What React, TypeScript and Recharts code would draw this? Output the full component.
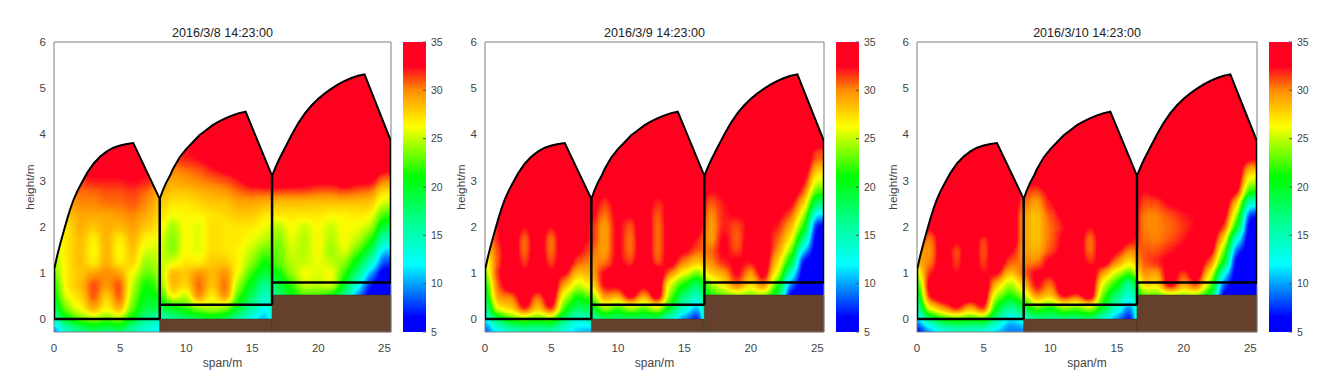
import React from 'react';
import { ComposedChart, AreaChart, Area, Line, Scatter, XAxis, YAxis, ReferenceArea } from 'recharts';

// heights (m) of the sampled rows; the last row reaches the top of the plot
const rowHeights = [-0.25, 0, 0.25, 0.5, 0.75, 1, 1.25, 1.5, 1.75, 2, 2.25, 2.5, 2.75, 3, 3.25, 3.5, 4];
// spans (m) of the sampled columns: column i is centred on x = i
const columnCount = 26;

const mar8Temps = [
  [9,14,16,18,17,18,15,13,12, 16,17,18,19,18,15,12,10, 17,20,22,22,20,16,9,5,5],
  [14,20,23,24,23,24,20,16,14, 16,17,18,19,18,15,12,10, 17,20,22,22,20,16,9,5,5],
  [18,24,26.5,29.5,26.5,29.5,23,19,19, 20,22,24,25,24,20,16,12, 17,20,22,22,20,16,9,5,5],
  [20,26,27.5,31.5,27.5,31.5,24,20,21, 27,24.5,30.5,26.5,30.5,22,18,14, 17,20,22,22,20,16,9,5,5],
  [21,27,28.5,31.5,29.5,31.5,25,21,23, 29,27.5,31,28,31,24,20,16, 19,22,25.5,25,26,20,13,7,5],
  [23,27,28,29.5,30,29.5,26,23,24, 29,28,30,28.5,30,26,22,19, 21,24,26.5,25.5,26.5,22,17,10,5],
  [24,27,28.5,26.5,29,26.5,28,24,25, 25.5,27,26.5,28,28,26.5,24,21, 23,25,25,26,25,24,20,15,8],
  [25,27,28.5,26,29,26,28.5,25.5,25.5, 23.5,26.5,25.5,27.5,27,26.5,25,23, 23,25.5,24.5,26.5,24,26,23,19,11],
  [26,27,28.5,26.5,29,26.5,29,26.5,26, 23.5,26.5,25.5,27.5,27,27,26,25, 23.5,26,24.5,26.5,24.5,26.5,25,22,15],
  [26,27,29,28,29,28.5,29.5,28,27, 24,26.5,25.5,27.5,27,27,27,26, 24.5,26.5,25,26.5,25,26.5,26,25,19],
  [28,28,29,29,29,29.5,30,29,27.5, 26,26.5,26.5,27,27.5,28,28,27, 27,27,27,27,26.5,26.5,27,26.5,22],
  [29,29,30,30,30.5,30.5,31,30,28, 27,27,27.5,28,28,29,29,28.5, 28,28,28,28,28,28,28,28,25],
  [30,30,30.5,30.5,31,31,31.5,30.5,29, 28,28,28.5,29,29.5,30.5,31,31, 31,31,31,30.5,30.5,31,30.5,30,27],
  [31.5,31.5,31.5,32,32,32,32.5,32,30, 29,29.5,30,30.5,31,32,33.5,34, 34,34,33.5,33,33,34,33,33,30],
  [33.5,33.5,33.5,33.5,33.5,33.5,33.5,33.5,31, 30,30.5,31,32,33,34,35,35, 35,35,35,35,35,35,35,35,33],
  [35,35,35,35,35,35,35,35,32, 31.5,32,32.5,33.5,35,35,35,35, 35,35,35,35,35,35,35,35,35],
  [35,35,35,35,35,35,35,35,35, 35,34,34.5,35,35,35,35,35, 35,35,35,35,35,35,35,35,35],
];

const mar9Temps = [
  [8,12,14,15,15,15,13,11,10, 17,17,17,17,17,13,9,6, 21,22,23,23,23,19,5,5,5],
  [11,18,22,23,22,23,17,13,15, 17,17,17,17,17,13,9,6, 21,22,23,23,23,19,5,5,5],
  [15,27,28,33,28,33,22,18,19, 25,22,25,23,26,20,14,10, 21,22,23,23,23,19,5,5,5],
  [18,30,30,35,30,35,25,21,23, 30,29,34,29,35,23,17,14, 21,22,23,23,23,19,5,5,5],
  [20,31,35,35,35,35,29,25,27, 33,33,35,33,35,25,21,17, 24,27,31,27,31,22,9,5,5],
  [23,32,35,33,35,33,33,28,29, 33,34,34,35,35,30,26,23, 28,29,33,29,34,26,14,5,5],
  [25,31,35,31,35,31,35,31,30, 30,33,31,35,30.5,34,30,28, 30,32,33,32,35,28,20,6,5],
  [27,31,35,30,35,30,35,33,31, 29,33,30,35,30,34,33,31, 30.5,33,31,34,35,30,24,11,5],
  [28,32,35,30,35,30,35,34,32, 29,33,30,35,30,34,34,32, 29,33,30.5,34,34,31,27,17,5],
  [30,32,35,32,35,32,35,35,32, 29,33,30.5,35,30,34,34,34, 29,32,31,33,33,32,29,22,6],
  [33,33,35,35,35,35,35,35,33, 30,33,32.5,34,30.5,34,34,34, 29.5,32,32.5,33,33,33,31,25,11],
  [35,35,35,35,35,35,35,35,34, 31,33.5,33,34,31.5,33,34,34, 30.5,32,33.5,33.5,34,34,33,28,17],
  [35,35,35,35,35,35,35,35,35, 33,34,34,34,33,34,35,35, 32,33,34,35,35,35,35,31,22],
  [35,35,35,35,35,35,35,35,35, 34,35,35,35,35,35,35,35, 34,34,35,35,35,35,35,33,25.5],
  [35,35,35,35,35,35,35,35,35, 35,35,35,35,35,35,35,35, 35,35,35,35,35,35,35,35,28],
  [35,35,35,35,35,35,35,35,35, 35,35,35,35,35,35,35,35, 35,35,35,35,35,35,35,35,31],
  [35,35,35,35,35,35,35,35,35, 35,35,35,35,35,35,35,35, 35,35,35,35,35,35,35,35,35],
];

const mar10Temps = [
  [6,10,13,14,14,13,11,9,9, 16,16,16,16,17,13,9,6, 22,22,23,23,23,19,5,5,5],
  [10,17,21,22,21,22,16,11,13, 16,16,16,16,17,13,9,6, 22,22,23,23,23,19,5,5,5],
  [14,27,30,33,29,33,20,16,19, 23,21,24,23,25,20,14,9, 22,22,23,23,23,19,5,5,5],
  [17,33,35,35,35,35,24,21,24, 30,28,33,31,35,22,17,13, 22,22,23,23,23,19,5,5,5],
  [20,34,35,35,35,35,28,24,28, 33,30,35,35,35,25,21,15, 28,27,34,29,32,24,8,5,5],
  [25,32,35,32,35,32,33,28,31, 33,33,35,35,35,29,25,22, 30,29,34,31,35,27,13,5,5],
  [29,30,35,31,35,31,35,31,30, 30,33,34,35,31.5,34,30,27, 31,32,33,34,35,31,21,5,5],
  [30,29.5,35,30.5,35,30.5,35,33,29.5, 28.5,31,33,35,30,35,33,30, 31,31,32,33,34,34,24,8,5],
  [32,30,35,33,35,31,35,35,29.5, 28,30.5,33,35,30,35,35,33, 30.5,30,31,32,34,35,28,13,5],
  [34,33,35,35,35,35,35,35,29.5, 28,30.5,32,35,32,35,35,35, 30,30,30.5,31.5,32.5,35,32,21,5],
  [35,35,35,35,35,35,35,35,29.5, 28,31,33,35,35,35,35,35, 30,30,31,32,32.5,33,34,24.5,7],
  [35,35,35,35,35,35,35,35,30.5, 29,32,34,35,35,35,35,35, 31,31,32.5,33,33,32.5,35,28,13],
  [35,35,35,35,35,35,35,35,32, 30.5,33,35,35,35,35,35,35, 32,33,34,35,35,34,35,33,21],
  [35,35,35,35,35,35,35,35,33, 33,35,35,35,35,35,35,35, 34,34,35,35,35,35,35,35,25],
  [35,35,35,35,35,35,35,35,35, 35,35,35,35,35,35,35,35, 35,35,35,35,35,35,35,35,28.5],
  [35,35,35,35,35,35,35,35,35, 35,35,35,35,35,35,35,35, 35,35,35,35,35,35,35,35,33],
  [35,35,35,35,35,35,35,35,35, 35,35,35,35,35,35,35,35, 35,35,35,35,35,35,35,35,35],
];

const titles = ['2016/3/8 14:23:00', '2016/3/9 14:23:00', '2016/3/10 14:23:00'];
const xTicks = [0, 5, 10, 15, 20, 25];
const yTicks = [0, 1, 2, 3, 4, 5, 6];
const colorTicks = [5, 10, 15, 20, 25, 30, 35];

const roofSpan = [0, 0.25, 0.5, 0.75, 1, 1.25, 1.5, 1.75, 2, 2.5, 3, 3.5, 4, 4.5, 5, 5.5, 6, 8, 8.25, 8.5, 8.8, 9, 9.5, 10, 10.5, 11, 11.5, 12, 12.5, 13, 13.5, 14, 14.5, 16.5, 16.75, 17, 17.5, 18, 18.5, 19, 19.5, 20, 20.5, 21, 21.5, 22, 22.5, 23, 23.5, 25.5];
const roofHeight = [1.06, 1.38, 1.66, 1.92, 2.17, 2.4, 2.6, 2.76, 2.9, 3.16, 3.37, 3.52, 3.63, 3.71, 3.76, 3.79, 3.81, 2.6, 2.8, 2.96, 3.12, 3.25, 3.5, 3.68, 3.83, 3.98, 4.09, 4.2, 4.28, 4.35, 4.41, 4.46, 4.49, 3.1, 3.28, 3.44, 3.72, 4.0, 4.25, 4.46, 4.63, 4.77, 4.89, 4.99, 5.08, 5.16, 5.22, 5.27, 5.3, 3.85];

const floorSpans = [[8, 16.5, 0], [16.5, 25.5, 0.52]];
const benchLines = [[[0, 0], [8, 0]], [[8, 0.31], [16.5, 0.31]], [[16.5, 0.79], [25.5, 0.79]]];
const wallLines = [[[0, 0], [0, 1.06]], [[8, 0], [8, 2.6]], [[16.5, 0.31], [16.5, 3.1]], [[25.5, 0.79], [25.5, 3.85]]];

const paletteValues = [5, 6.5, 12, 17, 21, 26.3, 30, 32.5, 35];
const paletteColors = ['#0000ff', '#0000ff', '#00ffff', '#00ff80', '#00ff00', '#ffff00', '#ff8c00', '#ff0020', '#ff0020'];

const TOP = 42, BOTTOM = 332, AXIS_W = 40, X_MAX = 25.5, Y_MIN = -0.28, Y_MAX = 6;
const panelLayouts = [
  { left: 54, right: 391, barLeft: 403 },
  { left: 485, right: 824, barLeft: 836 },
  { left: 917, right: 1257, barLeft: 1269 },
];
const panelData = [mar8Temps, mar9Temps, mar10Temps];
const BAR_W = 23;
const textColor = '#444444';
const fontFamily = '"Liberation Sans", Arial, sans-serif';

const hex = (c: string) => [1, 3, 5].map((i) => parseInt(c.slice(i, i + 2), 16));
function paletteAt(v: number) {
  let i = 0;
  while (i < paletteValues.length - 2 && v > paletteValues[i + 1]) i++;
  const t = Math.min(1, Math.max(0, (v - paletteValues[i]) / (paletteValues[i + 1] - paletteValues[i])));
  const a = hex(paletteColors[i]), b = hex(paletteColors[i + 1]);
  return a.map((x, k) => (x + (b[k] - x) * t) / 255);
}
const tableSteps = Array.from({ length: 61 }, (_, i) => paletteAt(5 + i / 2));
const channelTable = (k: number) => tableSteps.map((c) => c[k].toFixed(3)).join(' ');

function cellsOf(rows: number[][]) {
  const out: any[] = [];
  rows.forEach((row, r) => {
    const y = rowHeights[r];
    const low = r === 0 ? Y_MIN - 0.5 : (y + rowHeights[r - 1]) / 2;
    const high = r === rows.length - 1 ? Y_MAX + 0.5 : (y + rowHeights[r + 1]) / 2;
    for (let c = 0; c < columnCount; c++) out.push({ x: c, y, low, high, v: row[c] });
  });
  return out;
}

function HeatCell(props: any) {
  const { cx, cy, payload, pxX, pxY } = props;
  const level = Math.round(((payload.v - 5) / 30) * 255);
  return (
    <rect
      x={cx - pxX / 2 - 0.5 - (payload.x === 0 ? pxX : 0)}
      y={cy - (payload.high - payload.y) * pxY - 0.5}
      width={pxX + 1 + (payload.x === 0 || payload.x === columnCount - 1 ? pxX : 0)}
      height={(payload.high - payload.low) * pxY + 1}
      fill={`rgb(${level},${level},${level})`}
      shapeRendering="crispEdges"
    />
  );
}

const roofData = roofSpan.map((x, i) => ({ x, band: [roofHeight[i], Y_MAX] }));
const outlineData = roofSpan.map((x, i) => ({ x, y: roofHeight[i] }));

function Panel({ index }: { index: number }) {
  const lay = panelLayouts[index];
  const plotW = lay.right - lay.left;
  const plotH = BOTTOM - TOP;
  const pxX = plotW / X_MAX;
  const pxY = plotH / (Y_MAX - Y_MIN);
  const cells = cellsOf(panelData[index]);
  const tick = { fontSize: 11.5, fill: textColor, fontFamily };
  return (
    <div className={`panel-${index}`} style={{ position: 'absolute', left: lay.left - AXIS_W, top: 0 }}>
      <ComposedChart
        width={plotW + AXIS_W + 6}
        height={380}
        data={roofData}
        margin={{ top: TOP, right: 6, left: 0, bottom: 0 }}
      >
        <XAxis
          dataKey="x" type="number" domain={[0, X_MAX]} ticks={xTicks} allowDataOverflow
          height={380 - BOTTOM} tick={tick} tickLine={false} axisLine={false} tickMargin={6}
          interval={0}
          label={{ value: 'span/m', position: 'insideBottom', offset: 13, style: { fontSize: 12, fill: textColor, fontFamily } }}
        />
        <YAxis
          type="number" domain={[Y_MIN, Y_MAX]} ticks={yTicks} allowDataOverflow
          width={AXIS_W} tick={tick} tickLine={false} axisLine={false} tickMargin={2}
          interval={0}
          label={{ value: 'height/m', angle: -90, position: 'insideLeft', offset: 16, style: { fontSize: 11.8, fill: textColor, fontFamily, textAnchor: 'middle' } }}
        />
        <Scatter
          data={cells} dataKey="y" isAnimationActive={false} zIndex={50}
          shape={(p: any) => <HeatCell {...p} pxX={pxX} pxY={pxY} />}
        />
        <Area
          dataKey="band" type="linear" stroke="none" fill="#ffffff" fillOpacity={1}
          isAnimationActive={false} dot={false} activeDot={false} zIndex={60}
        />
        {floorSpans.map(([x1, x2, top], i) => (
          <ReferenceArea key={i} x1={x1} x2={x2} y1={Y_MIN} y2={top} fill="#65402c" fillOpacity={1}
            stroke="#4a3020" strokeWidth={0.5} ifOverflow="visible" zIndex={70} />
        ))}
        <ReferenceArea x1={0} x2={X_MAX} y1={Y_MIN} y2={Y_MAX} fill="none" stroke="#808080" strokeWidth={1}
          ifOverflow="visible" zIndex={75} />
        <Line data={outlineData} dataKey="y" type="linear" stroke="#000000" strokeWidth={2} dot={false}
          activeDot={false} isAnimationActive={false} zIndex={80} />
        {[...benchLines, ...wallLines].map((seg, i) => (
          <Line key={i} data={seg.map(([x, y]) => ({ x, y }))} dataKey="y" type="linear" stroke="#000000"
            strokeWidth={2.5} dot={false} activeDot={false} isAnimationActive={false} zIndex={80} />
        ))}
      </ComposedChart>
    </div>
  );
}

const barData = [{ k: 0, top: 35 }, { k: 1, top: 35 }];

function ColorBar({ index }: { index: number }) {
  const lay = panelLayouts[index];
  return (
    <div style={{ position: 'absolute', left: lay.barLeft, top: 0 }}>
      <AreaChart width={BAR_W + 30} height={380} data={barData} margin={{ top: TOP, right: 0, left: 0, bottom: 380 - BOTTOM }}>
        <defs>
          <linearGradient id={`bar-${index}`} x1="0" y1="1" x2="0" y2="0">
            {paletteValues.map((v, i) => (
              <stop key={i} offset={(v - 5) / 30} stopColor={paletteColors[i]} />
            ))}
          </linearGradient>
        </defs>
        <XAxis dataKey="k" type="number" domain={[0, 1]} hide />
        <YAxis
          orientation="right" type="number" domain={[5, 35]} ticks={colorTicks} interval={0} width={30}
          axisLine={false} tickSize={-3} tickMargin={8} tickLine={{ stroke: '#555555' }}
          tick={{ fontSize: 10.5, fill: textColor, fontFamily }}
        />
        <Area dataKey="top" baseValue={5} type="linear" stroke="none" fill={`url(#bar-${index})`} fillOpacity={1}
          isAnimationActive={false} dot={false} activeDot={false} />
      </AreaChart>
    </div>
  );
}

export default function App() {
  const css = panelLayouts
    .map((lay, i) => `.panel-${i} .recharts-scatter{filter:url(#jet);clip-path:url(#plot-clip-${i});}`)
    .join('\n');
  return (
    <div style={{ position: 'absolute', left: 0, top: 0, width: 1339, height: 380, background: '#fff', overflow: 'hidden' }}>
      <style>{css}</style>
      <svg width={0} height={0} style={{ position: 'absolute' }}>
        <defs>
          <filter id="jet" x="-10%" y="-10%" width="120%" height="120%" colorInterpolationFilters="sRGB">
            <feGaussianBlur stdDeviation="4 4.5" />
            <feComponentTransfer>
              <feFuncR type="table" tableValues={channelTable(0)} />
              <feFuncG type="table" tableValues={channelTable(1)} />
              <feFuncB type="table" tableValues={channelTable(2)} />
              <feFuncA type="linear" slope={20} />
            </feComponentTransfer>
          </filter>
          {panelLayouts.map((lay, i) => (
            <clipPath key={i} id={`plot-clip-${i}`} clipPathUnits="userSpaceOnUse">
              <rect x={AXIS_W} y={TOP} width={lay.right - lay.left} height={BOTTOM - TOP} />
            </clipPath>
          ))}
        </defs>
      </svg>
      {panelLayouts.map((lay, i) => (
        <React.Fragment key={i}>
          <Panel index={i} />
          <ColorBar index={i} />
          <div style={{
            position: 'absolute', left: lay.left, width: lay.right - lay.left, top: 25, textAlign: 'center',
            fontSize: 12.5, lineHeight: '16px', color: '#222', fontFamily,
          }}>{titles[i]}</div>
        </React.Fragment>
      ))}
    </div>
  );
}
